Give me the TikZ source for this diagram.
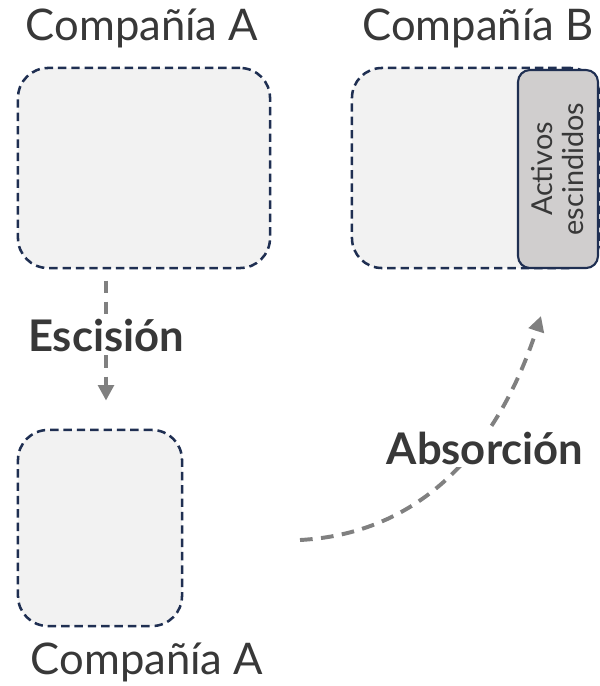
\documentclass[tikz,border=0pt]{standalone}
\usepackage{fontspec}
\setmainfont{Lato}
\usetikzlibrary{positioning,arrows.meta}
\definecolor{navy}{HTML}{1F2F52}
\definecolor{boxgray}{HTML}{F2F2F2}
\definecolor{tabgray}{HTML}{D0CECE}
\definecolor{arrowgray}{HTML}{808080}
\definecolor{txtgray}{HTML}{383838}

\tikzset{
  company/.style={draw=navy, fill=boxgray, line width=1.8pt, dash pattern=on 6pt off 3.5pt,
    rounded corners=0.75cm, inner sep=0pt},
  title/.style={font=\fontsize{31}{34}\selectfont, text=txtgray},
  steplabel/.style={font=\bfseries\fontsize{31}{34}\selectfont, text=txtgray, fill=white, inner sep=2pt},
  flow/.style={draw=arrowgray, line width=2.8pt, dash pattern=on 9pt off 6pt,
    -{Triangle[length=11pt,width=11pt]}},
}

\begin{document}
\begin{tikzpicture}[x=0.025cm, y=-0.025cm]
    \useasboundingbox (0,0) rectangle (600,686);
    % company boxes
    \node[company, minimum width=6.3cm, minimum height=5cm] (compA) at (144,168) {};
    \node[company, minimum width=6.2cm, minimum height=5cm] (compB) at (476,168) {};
    \node[draw=navy, fill=tabgray, line width=1.5pt, rounded corners=0.3cm,
          minimum width=2cm, minimum height=4.95cm, inner sep=0pt] (assets) at (558,169) {};
    \node[rotate=90, align=center, text=txtgray, font=\fontsize{20.5}{22}\selectfont] (assetsText) at (assets.center) {Activos\\escindidos};
    \node[company, minimum width=4.1cm, minimum height=4.9cm] (compA2) at (100,528) {};
    % titles
    \node[title] (titleA) at (142,28) {Compañía A};
    \node[title] (titleB) at (478,28) {Compañía B};
    \node[title] (titleA2) at (147,662) {Compañía A};
    % escision
    \node[steplabel] (split) at (106,336) {Escisión};
    \draw[draw=arrowgray, line width=2.8pt, dash pattern=on 9pt off 6pt, shorten <=8pt] (compA.south -| split) -- (split.north);
    \draw[flow, shorten >=20pt] (split.south) -- (compA2.north -| split);
    % absorcion
    \coordinate (absStart) at (300,540);
    \coordinate (absEnd) at (541,316);
    \draw[flow] (absStart) to[out=3, in=-108] (absEnd);
    \node[steplabel] (absorb) at (485,448) {Absorción};
\end{tikzpicture}
\end{document}
